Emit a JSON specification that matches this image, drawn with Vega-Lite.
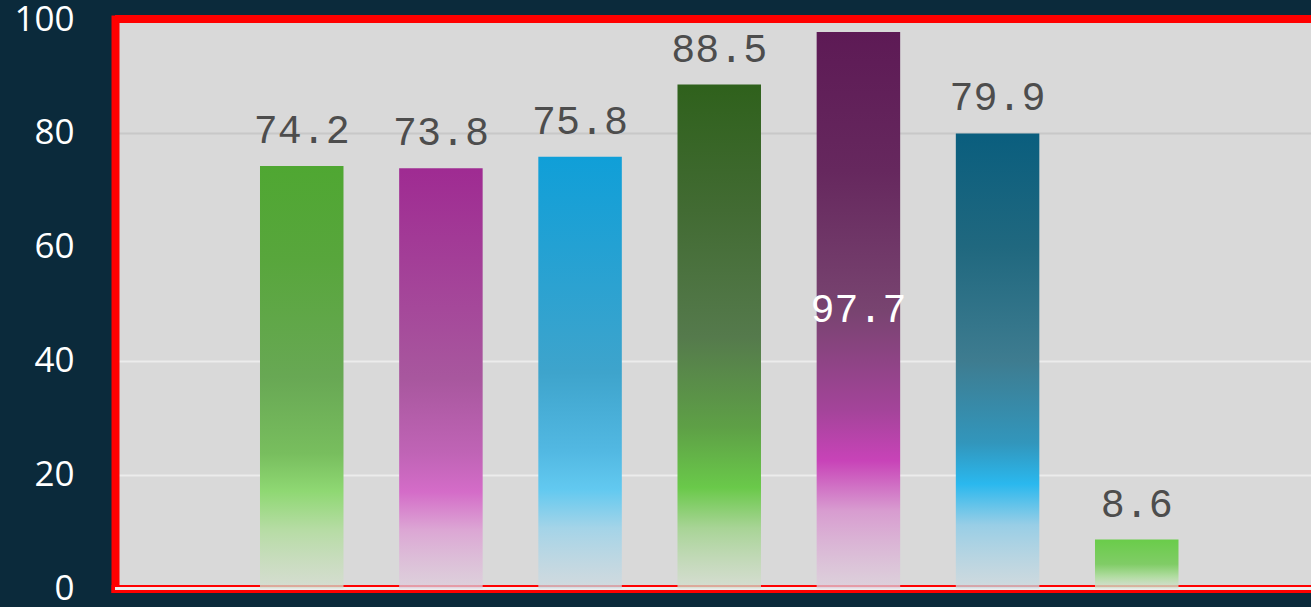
{
  "$schema": "https://vega.github.io/schema/vega-lite/v6.json",
  "autosize": {"type": "none"},
  "width": 1196,
  "height": 569.6,
  "padding": {"left": 115, "top": 19, "right": 0, "bottom": 18.4},
  "background": "#0b2a3b",
  "data": {
    "values": [
      {"item": "A", "value": 74.2},
      {"item": "B", "value": 73.8},
      {"item": "C", "value": 75.8},
      {"item": "D", "value": 88.5},
      {"item": "E", "value": 97.7},
      {"item": "F", "value": 79.9},
      {"item": "G", "value": 8.6}
    ]
  },
  "layer": [
    {
      "mark": {"type": "rule", "color": "#eeeeee", "strokeWidth": 2},
      "encoding": {"y": {"datum": 0, "type": "quantitative"}}
    },
    {
      "transform": [{"filter": "datum.item === 'A'"}],
      "mark": {"type": "bar", "color": {"gradient": "linear", "x1": 0, "y1": 0, "x2": 0, "y2": 1, "stops": [
        {"offset": 0, "color": "#4fa732"}, {"offset": 0.22, "color": "#58a63c"}, {"offset": 0.5, "color": "#68a854"},
        {"offset": 0.68, "color": "#78be5e"}, {"offset": 0.77, "color": "#8fd873"}, {"offset": 0.86, "color": "#b6dca4"},
        {"offset": 1, "color": "rgba(212,222,206,0.75)"}]}},
      "encoding": {
        "x": {"field": "item", "type": "nominal", "sort": null,
              "scale": {"domain": ["A", "B", "C", "D", "E", "F", "G"], "paddingInner": 0.4, "paddingOuter": 0.997, "align": 0.5225}},
        "y": {"field": "value", "type": "quantitative", "scale": {"domain": [0, 100], "nice": false},
              "axis": {
                "values": [0, 20, 40, 60, 80, 100],
                "gridColor": {"condition": {"test": "datum.value === 80", "value": "#c8c8c8"}, "value": "#ececec"},
                "gridOpacity": {"condition": {"test": "datum.value === 60 || datum.value === 100", "value": 0}, "value": 1}
              }}
      }
    },
    {
      "transform": [{"filter": "datum.item === 'B'"}],
      "mark": {"type": "bar", "color": {"gradient": "linear", "x1": 0, "y1": 0, "x2": 0, "y2": 1, "stops": [
        {"offset": 0, "color": "#9f2b92"}, {"offset": 0.5, "color": "#a8579e"},
        {"offset": 0.68, "color": "#c064b6"}, {"offset": 0.77, "color": "#d46cc8"}, {"offset": 0.86, "color": "#dca6d4"},
        {"offset": 1, "color": "rgba(222,206,220,0.75)"}]}},
      "encoding": {
        "x": {"field": "item", "type": "nominal", "sort": null},
        "y": {"field": "value", "type": "quantitative"}
      }
    },
    {
      "transform": [{"filter": "datum.item === 'C'"}],
      "mark": {"type": "bar", "color": {"gradient": "linear", "x1": 0, "y1": 0, "x2": 0, "y2": 1, "stops": [
        {"offset": 0, "color": "#109fd8"}, {"offset": 0.5, "color": "#3ea4cc"},
        {"offset": 0.68, "color": "#52b8e2"}, {"offset": 0.77, "color": "#62c9f0"}, {"offset": 0.86, "color": "#a4d4e8"},
        {"offset": 1, "color": "rgba(206,218,224,0.75)"}]}},
      "encoding": {
        "x": {"field": "item", "type": "nominal", "sort": null},
        "y": {"field": "value", "type": "quantitative"}
      }
    },
    {
      "transform": [{"filter": "datum.item === 'D'"}],
      "mark": {"type": "bar", "color": {"gradient": "linear", "x1": 0, "y1": 0, "x2": 0, "y2": 1, "stops": [
        {"offset": 0, "color": "#2f611c"}, {"offset": 0.25, "color": "#426b33"}, {"offset": 0.5, "color": "#557a4c"},
        {"offset": 0.68, "color": "#5ea046"}, {"offset": 0.8, "color": "#6ac94a"}, {"offset": 0.88, "color": "#a8d496"},
        {"offset": 1, "color": "rgba(212,222,206,0.75)"}]}},
      "encoding": {
        "x": {"field": "item", "type": "nominal", "sort": null},
        "y": {"field": "value", "type": "quantitative"}
      }
    },
    {
      "transform": [{"filter": "datum.item === 'E'"}],
      "mark": {"type": "bar", "color": {"gradient": "linear", "x1": 0, "y1": 0, "x2": 0, "y2": 1, "stops": [
        {"offset": 0, "color": "#5d1a55"}, {"offset": 0.25, "color": "#66285e"}, {"offset": 0.5, "color": "#784470"},
        {"offset": 0.68, "color": "#a4449a"}, {"offset": 0.77, "color": "#c843b8"}, {"offset": 0.86, "color": "#d89cd0"},
        {"offset": 1, "color": "rgba(222,206,220,0.75)"}]}},
      "encoding": {
        "x": {"field": "item", "type": "nominal", "sort": null},
        "y": {"field": "value", "type": "quantitative"}
      }
    },
    {
      "transform": [{"filter": "datum.item === 'F'"}],
      "mark": {"type": "bar", "color": {"gradient": "linear", "x1": 0, "y1": 0, "x2": 0, "y2": 1, "stops": [
        {"offset": 0, "color": "#0a5e7e"}, {"offset": 0.25, "color": "#20687f"}, {"offset": 0.5, "color": "#3e7c90"},
        {"offset": 0.68, "color": "#3296bc"}, {"offset": 0.77, "color": "#2ab8ee"}, {"offset": 0.86, "color": "#98cee6"},
        {"offset": 1, "color": "rgba(204,218,224,0.75)"}]}},
      "encoding": {
        "x": {"field": "item", "type": "nominal", "sort": null},
        "y": {"field": "value", "type": "quantitative"}
      }
    },
    {
      "transform": [{"filter": "datum.item === 'G'"}],
      "mark": {"type": "bar", "color": {"gradient": "linear", "x1": 0, "y1": 0, "x2": 0, "y2": 1, "stops": [
        {"offset": 0, "color": "#6acc4a"}, {"offset": 0.5, "color": "#80cc66"}, {"offset": 0.75, "color": "#b0dca0"},
        {"offset": 1, "color": "rgba(214,224,208,0.75)"}]}},
      "encoding": {
        "x": {"field": "item", "type": "nominal", "sort": null},
        "y": {"field": "value", "type": "quantitative"}
      }
    },
    {
      "mark": {"type": "rule", "color": "#ff0000", "strokeWidth": 8},
      "encoding": {"y": {"datum": 100, "type": "quantitative"}}
    },
    {
      "transform": [{"filter": "datum.value < 95"}],
      "mark": {"type": "text", "font": "Liberation Mono", "fontSize": 40, "color": "#4d4d4d", "baseline": "alphabetic", "dy": -23},
      "encoding": {
        "x": {"field": "item", "type": "nominal", "sort": null},
        "y": {"field": "value", "type": "quantitative"},
        "text": {"field": "value", "type": "quantitative", "format": ".1f"}
      }
    },
    {
      "transform": [{"filter": "datum.value >= 95"}, {"calculate": "datum.value / 2", "as": "mid"}],
      "mark": {"type": "text", "font": "Liberation Mono", "fontSize": 40, "color": "#ffffff", "baseline": "middle"},
      "encoding": {
        "x": {"field": "item", "type": "nominal", "sort": null},
        "y": {"field": "mid", "type": "quantitative"},
        "text": {"field": "value", "type": "quantitative", "format": ".1f"}
      }
    }
  ],
  "config": {
    "view": {"fill": "#d9d9d9", "stroke": null},
    "axisX": {
      "title": null, "labels": false, "ticks": false, "grid": false,
      "domain": true, "domainColor": "#ff0000", "domainWidth": 8, "domainCap": "square"
    },
    "axisY": {
      "title": null, "ticks": false, "tickSize": 0,
      "labelFont": "Open Sans", "labelFontSize": 35, "labelColor": "#ffffff", "labelPadding": 41,
      "labelBaseline": "middle",
      "domain": true, "domainColor": "#ff0000", "domainWidth": 8, "domainCap": "square",
      "grid": true, "gridWidth": 2
    }
  }
}
